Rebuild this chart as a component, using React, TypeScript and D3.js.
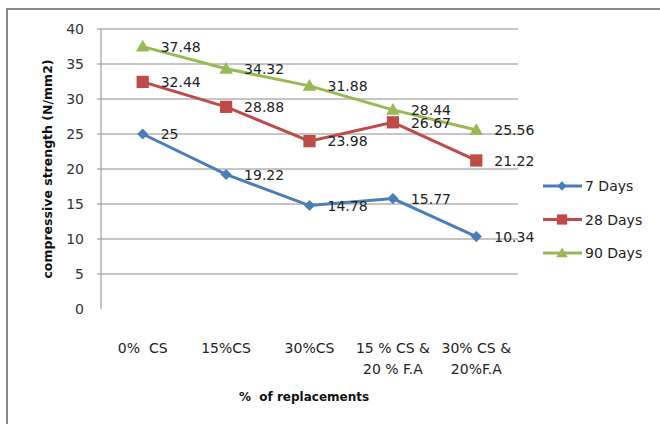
import * as d3 from "d3";
import React from "react";

const categories = ["0%  CS", "15%CS", "30%CS", "15 % CS &\n20 % F.A", "30% CS &\n20%F.A"];
const days7 = [25, 19.22, 14.78, 15.77, 10.34];
const days28 = [32.44, 28.88, 23.98, 26.67, 21.22];
const days90 = [37.48, 34.32, 31.88, 28.44, 25.56];
const yTicks = [0, 5, 10, 15, 20, 25, 30, 35, 40];

const series = [
  { name: "7 Days", values: days7, color: "#4A7EBB", shape: "diamond" },
  { name: "28 Days", values: days28, color: "#BE4B48", shape: "square" },
  { name: "90 Days", values: days90, color: "#98B954", shape: "triangle" },
];

const font = "'DejaVu Sans', sans-serif";

function Marker({ shape, x, y, color, scale = 1 }: { shape: string; x: number; y: number; color: string; scale?: number }) {
  if (shape === "diamond") {
    const d = d3.symbol(d3.symbolSquare, 62 * scale)();
    return <path d={d ?? ""} transform={`translate(${x},${y}) rotate(45)`} fill={color} />;
  }
  if (shape === "square") {
    const d = d3.symbol(d3.symbolSquare, 150 * scale)();
    return <path d={d ?? ""} transform={`translate(${x},${y})`} fill={color} />;
  }
  const d = d3.symbol(d3.symbolTriangle, 80 * scale)();
  return <path d={d ?? ""} transform={`translate(${x},${y + 1})`} fill={color} />;
}

export default function App() {
  const width = 660;
  const height = 424;
  const left = 101;
  const right = 518;
  const top = 29;
  const bottom = 309;

  const x = d3.scalePoint<string>().domain(categories).range([left, right]).padding(0.5);
  const y = d3.scaleLinear().domain([0, 40]).range([bottom, top]);

  const line = d3
    .line<number>()
    .x((_, i) => x(categories[i]) ?? 0)
    .y((d) => y(d));

  return (
    <svg
      width={width}
      height={height}
      style={{ position: "absolute", left: 0, top: 0 }}
      fontFamily={font}
    >
      <rect width={width} height={height} fill="#fff" />
      {/* outer frame */}
      <path d={`M7,${height} V9 H${width}`} fill="none" stroke="#898989" strokeWidth={2} />

      {/* gridlines + y ticks */}
      <g>
        {yTicks.map((t) => (
          <g key={t}>
            {t > 0 && (
              <line x1={left - 4} x2={right} y1={y(t)} y2={y(t)} stroke="#8C8C8C" strokeWidth={1} />
            )}
            <text x={84} y={y(t)} dy="0.36em" textAnchor="end" fontSize={14} fill="#333">
              {t}
            </text>
          </g>
        ))}
        <line x1={left} x2={left} y1={top} y2={bottom} stroke="#8C8C8C" />
      </g>

      {/* x tick labels */}
      <g fontSize={14} fill="#222" textAnchor="middle">
        {categories.map((c) => (
          <text key={c} x={x(c)} y={353} style={{ whiteSpace: "pre" }}>
            {c.split("\n").map((part, i) => (
              <tspan key={i} x={x(c)} dy={i === 0 ? 0 : 21}>
                {part}
              </tspan>
            ))}
          </text>
        ))}
      </g>

      {/* axis titles */}
      <text x={304} y={401} textAnchor="middle" fontSize={12} fontWeight="bold" fill="#111" style={{ whiteSpace: "pre" }}>
        %  of replacements
      </text>
      <text
        transform={`translate(52,${(top + bottom) / 2}) rotate(-90)`}
        textAnchor="middle"
        fontSize={12.5}
        fontWeight="bold"
        fill="#111"
      >
        compressive strength (N/mm2)
      </text>

      {/* series */}
      {series.map((s) => (
        <g key={s.name}>
          <path d={line(s.values) ?? ""} fill="none" stroke={s.color} strokeWidth={3} />
          {s.values.map((v, i) => (
            <Marker key={i} shape={s.shape} x={x(categories[i]) ?? 0} y={y(v)} color={s.color} />
          ))}
        </g>
      ))}

      {/* data labels */}
      {series.map((s) => (
        <g key={s.name + "-labels"} fontSize={14} fill="#222">
          {s.values.map((v, i) => (
            <text key={i} x={(x(categories[i]) ?? 0) + 18} y={y(v)} dy="0.38em">
              {v}
            </text>
          ))}
        </g>
      ))}

      {/* legend */}
      <g fontSize={14} fill="#222">
        {series.map((s, i) => {
          const ly = 186 + i * 33.5;
          return (
            <g key={s.name}>
              <line x1={543} x2={582} y1={ly} y2={ly} stroke={s.color} strokeWidth={3} />
              <Marker shape={s.shape} x={562} y={ly} color={s.color} scale={0.7} />
              <text x={585} y={ly} dy="0.36em">
                {s.name}
              </text>
            </g>
          );
        })}
      </g>
    </svg>
  );
}
